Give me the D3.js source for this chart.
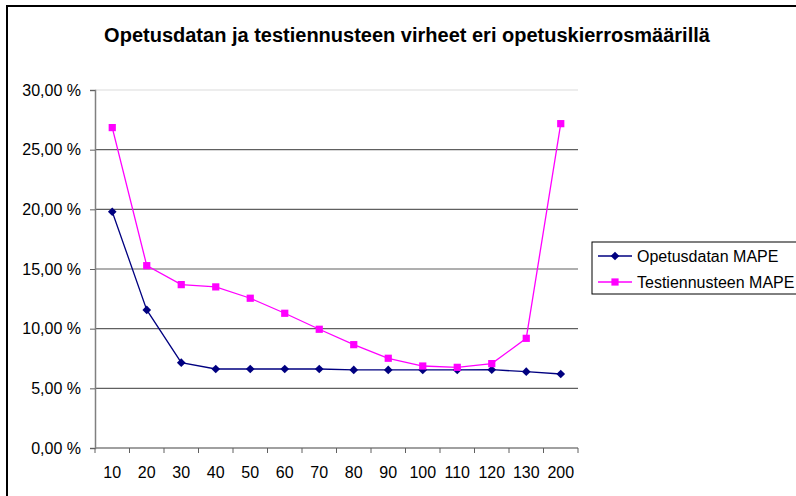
<!DOCTYPE html>
<html lang="fi">
<head>
  <meta charset="UTF-8">
  <title>Opetusdatan ja testiennusteen virheet</title>
  <style>
    body, html { margin: 0; padding: 0; background: #fff; }
    svg { display: block; font-family: Arial, "Liberation Sans", sans-serif; }
  </style>
</head>
<body>
  <svg id="svg" width="796" height="496"></svg>

  <script src="https://cdn.jsdelivr.net/npm/d3@7"></script>
  <script>
    const categories = ['10', '20', '30', '40', '50', '60', '70', '80', '90', '100', '110', '120', '130', '200'];
    const opetusMape = [19.8, 11.57, 7.15, 6.62, 6.62, 6.62, 6.62, 6.54, 6.54, 6.54, 6.54, 6.56, 6.4, 6.2];
    const testiMape = [26.85, 15.28, 13.69, 13.5, 12.55, 11.29, 9.95, 8.66, 7.52, 6.87, 6.76, 7.07, 9.19, 27.18];
    const yTicks = [0, 5, 10, 15, 20, 25, 30];
    const seriesNames = ['Opetusdatan MAPE', 'Testiennusteen MAPE'];

    const svg = d3.select('#svg');
    const margin = { top: 90, left: 95 };
    const width = 483, height = 358;

    // outer chart border (extends past the right/bottom edge)
    svg.append('rect')
      .attr('x', 7).attr('y', 6)
      .attr('width', 900).attr('height', 600)
      .attr('fill', 'none').attr('stroke', '#000').attr('stroke-width', 2);

    svg.append('text')
      .attr('x', 407).attr('y', 42)
      .attr('text-anchor', 'middle')
      .style('font-size', '20px').style('font-weight', 'bold')
      .text('Opetusdatan ja testiennusteen virheet eri opetuskierrosmäärillä');

    const g = svg.append('g').attr('transform', `translate(${margin.left},${margin.top})`);

    const x = d3.scaleBand().domain(categories).range([0, width]);
    const y = d3.scaleLinear().domain([0, 30]).range([height, 0]);

    // gridlines
    g.selectAll('.grid')
      .data(yTicks.filter(d => d > 0))
      .enter().append('line')
      .attr('x1', 0).attr('x2', width)
      .attr('y1', d => y(d)).attr('y2', d => y(d))
      .attr('stroke', d => d === 30 ? '#dcdcdc' : '#606060')
      .attr('stroke-width', 1.2);

    const fmt = d => d3.format('.2f')(d).replace('.', ',') + ' %';

    const yAxis = g.append('g')
      .call(d3.axisLeft(y).tickValues(yTicks).tickFormat(fmt).tickSize(5).tickPadding(9));
    yAxis.select('.domain').attr('stroke', '#808080').attr('stroke-width', 1.5);
    yAxis.selectAll('.tick line').attr('stroke', '#606060');
    yAxis.selectAll('text').style('font-size', '16px').attr('fill', '#000')
      .style('font-family', 'Arial, "Liberation Sans", sans-serif');

    // x axis with ticks at category boundaries
    const xAxis = g.append('g').attr('transform', `translate(0,${height})`);
    xAxis.append('line')
      .attr('x1', 0).attr('x2', width)
      .attr('stroke', '#808080').attr('stroke-width', 1.5);
    xAxis.selectAll('.xtick')
      .data(categories.concat(['end']))
      .enter().append('line')
      .attr('x1', (d, i) => i * x.bandwidth()).attr('x2', (d, i) => i * x.bandwidth())
      .attr('y1', 0).attr('y2', 5)
      .attr('stroke', '#606060');
    xAxis.selectAll('.xlabel')
      .data(categories)
      .enter().append('text')
      .attr('x', d => x(d) + x.bandwidth() / 2)
      .attr('y', 30)
      .attr('text-anchor', 'middle')
      .style('font-size', '16px')
      .text(d => d);

    const series = [
      { name: seriesNames[0], values: opetusMape, color: '#000080', marker: d3.symbolDiamond2, size: 48 },
      { name: seriesNames[1], values: testiMape, color: '#ff00ff', marker: d3.symbolSquare, size: 52 }
    ];

    const line = d3.line()
      .x((d, i) => x(categories[i]) + x.bandwidth() / 2)
      .y(d => y(d));

    series.forEach(s => {
      g.append('path')
        .datum(s.values)
        .attr('d', line)
        .attr('fill', 'none')
        .attr('stroke', s.color)
        .attr('stroke-width', 1.3);
      g.selectAll(null)
        .data(s.values)
        .enter().append('path')
        .attr('d', d3.symbol().type(s.marker).size(s.size))
        .attr('transform', (d, i) => `translate(${x(categories[i]) + x.bandwidth() / 2},${y(d)})`)
        .attr('fill', s.color);
    });

    // legend
    const legend = svg.append('g').attr('transform', 'translate(592,242)');
    legend.append('rect')
      .attr('width', 300).attr('height', 52)
      .attr('fill', '#fff').attr('stroke', '#000').attr('stroke-width', 1);
    series.forEach((s, i) => {
      const ly = 14 + i * 26;
      legend.append('line')
        .attr('x1', 6).attr('x2', 40).attr('y1', ly).attr('y2', ly)
        .attr('stroke', s.color).attr('stroke-width', 1.3);
      legend.append('path')
        .attr('d', d3.symbol().type(s.marker).size(s.size))
        .attr('transform', `translate(23,${ly})`)
        .attr('fill', s.color);
      legend.append('text')
        .attr('x', 45).attr('y', ly)
        .attr('dy', '0.35em')
        .style('font-size', '16px')
        .text(s.name);
    });
  </script>
</body>
</html>
